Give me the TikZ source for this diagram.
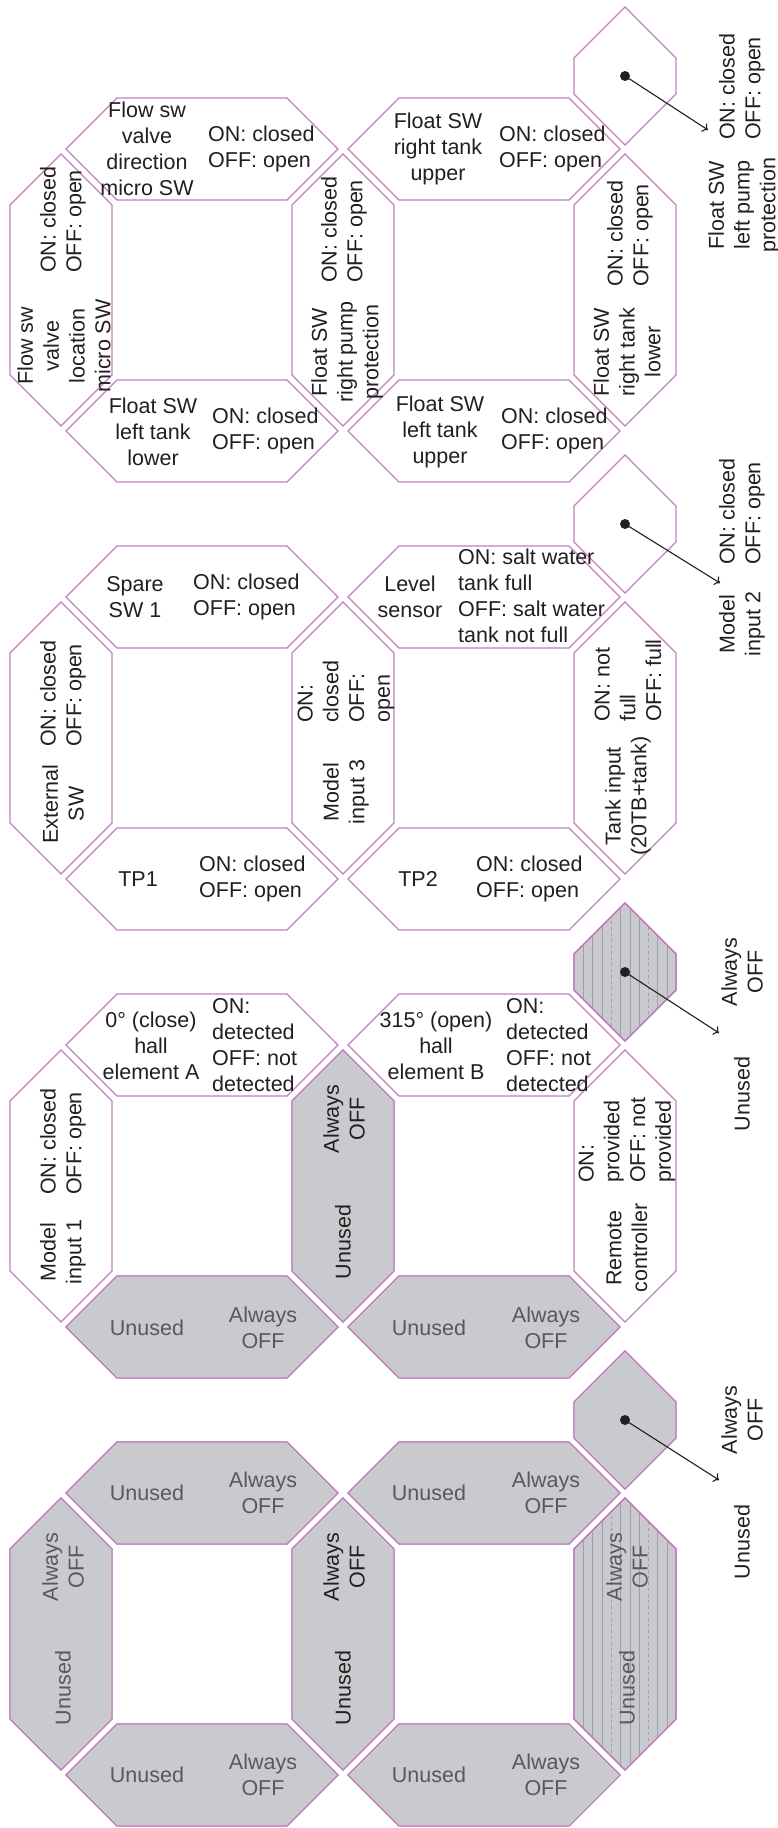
\documentclass[tikz,border=0pt]{standalone}
\usepackage{fontspec}
\setmainfont{Liberation Sans}
\usetikzlibrary{arrows.meta}
\definecolor{segline}{RGB}{192,128,192}
\definecolor{offfill}{RGB}{201,202,205}
\definecolor{offtext}{RGB}{88,89,91}
\definecolor{hatchline}{RGB}{158,158,163}
\definecolor{ink}{RGB}{35,31,32}

\begin{document}
\begin{tikzpicture}[x=1pt,y=-1pt,font=\fontsize{21.5}{25.8}\selectfont,text=ink,
  seg/.style={draw=segline,line width=1.1pt},
  hatch/.style={draw=hatchline,line width=0.6pt},
  lbl/.style={inner sep=0pt,align=center},
  onoff/.style={lbl,anchor=west,align=left},
  up/.style={rotate=90},
  dim/.style={text=offtext},
  dot/.style={circle,fill=ink,inner sep=0pt,minimum size=10pt},
  ptr/.style={draw=ink,line width=1.1pt,-{To[length=5pt,width=10pt]}},
  hseg/.pic={\path[seg,fill=#1] (-136,0)--(-85,-51)--(85,-51)--(136,0)--(85,51)--(-85,51)--cycle;},
  vseg/.pic={\path[seg,fill=#1] (0,-136)--(51,-85)--(51,85)--(0,136)--(-51,85)--(-51,-85)--cycle;},
  dpseg/.pic={\path[seg,fill=#1] (0,-69)--(51,-18)--(51,18)--(0,69)--(-51,18)--(-51,-18)--cycle;},
  lines/.pic={
    \begin{scope}
      \clip (0,-#1-51)--(51,-#1)--(51,#1)--(0,#1+51)--(-51,#1)--(-51,-#1)--cycle;
      \foreach \i in {1,2,3,5,6,7,9,10} \draw[hatch] (-51+9.3*\i,-#1-51)--++(0,2*#1+102);
      \foreach \i in {4,8} \draw[hatch,dashed] (-51+9.3*\i,-#1-51)--++(0,2*#1+102);
    \end{scope}
    \path[seg] (0,-#1-51)--(51,-#1)--(51,#1)--(0,#1+51)--(-51,#1)--(-51,-#1)--cycle;}]
  \useasboundingbox (0,0) rectangle (777,1828);

  % segment outlines, one digit every 448
  \foreach \dy in {0,448,896,1344}{
    \pic at (202,149+\dy) {hseg=white};
    \pic at (484,149+\dy) {hseg=white};
    \pic at (202,431+\dy) {hseg=white};
    \pic at (484,431+\dy) {hseg=white};
    \pic at (61,290+\dy) {vseg=white};
    \pic at (343,290+\dy) {vseg=white};
    \pic at (625,290+\dy) {vseg=white};
    \pic at (625,76+\dy) {dpseg=white};
  }
  % unused segments
  \pic at (202,1327) {hseg=offfill};
  \pic at (484,1327) {hseg=offfill};
  \pic at (343,1186) {vseg=offfill};
  \pic at (625,972) {dpseg=offfill};
  \pic at (625,972) {lines=18};
  \foreach \x/\y in {202/1493,484/1493,202/1775,484/1775} \pic at (\x,\y) {hseg=offfill};
  \foreach \x in {61,343,625} \pic at (\x,1634) {vseg=offfill};
  \pic at (625,1634) {lines=85};
  \pic at (625,1420) {dpseg=offfill};

  % digit 1
  \node[lbl] (flowdir) at (147,149) {Flow sw\\valve\\direction\\micro SW};
  \node[onoff] (flowdirst) at (208,149) {ON: closed\\OFF: open};
  \node[lbl] (rtupper) at (438,149) {Float SW\\right tank\\upper};
  \node[onoff] (rtupperst) at (499,149) {ON: closed\\OFF: open};
  \node[lbl] (ltlower) at (153,432) {Float SW\\left tank\\lower};
  \node[onoff] (ltlowerst) at (212,431) {ON: closed\\OFF: open};
  \node[lbl] (ltupper) at (440,432) {Float SW\\left tank\\upper};
  \node[onoff] (ltupperst) at (501,431) {ON: closed\\OFF: open};
  \node[onoff,up] (flowlocst) at (63,273) {ON: closed\\OFF: open};
  \node[lbl,up] (flowloc) at (64,346) {Flow sw\\valve\\location\\micro SW};
  \node[onoff,up] (rpumpst) at (344,283) {ON: closed\\OFF: open};
  \node[lbl,up] (rpump) at (347,352) {Float SW\\right pump\\protection};
  \node[onoff,up] (rtlowerst) at (630,287) {ON: closed\\OFF: open};
  \node[lbl,up] (rtlower) at (627,352) {Float SW\\right tank\\lower};
  \node[onoff,up] (lpumpst) at (742,140) {ON: closed\\OFF: open};
  \node[lbl,up] (lpump) at (744,205) {Float SW\\left pump\\protection};
  \node[dot] (dotA) at (625,76) {};
  \coordinate (endA) at (708,130);
  \draw[ptr] (dotA.center) -- (endA);

  % digit 2
  \node[lbl] (spare) at (135,597) {Spare\\SW 1};
  \node[onoff] (sparest) at (193,597) {ON: closed\\OFF: open};
  \node[lbl] (level) at (410,597) {Level\\sensor};
  \node[onoff] (levelst) at (458,596) {ON: salt water\\tank full\\OFF: salt water\\tank not full};
  \node[lbl] (tpone) at (138,879) {TP1};
  \node[onoff] (tponest) at (199,879) {ON: closed\\OFF: open};
  \node[lbl] (tptwo) at (418,879) {TP2};
  \node[onoff] (tptwost) at (476,879) {ON: closed\\OFF: open};
  \node[onoff,up] (extst) at (63,747) {ON: closed\\OFF: open};
  \node[lbl,up] (ext) at (63,804) {External\\SW};
  \node[onoff,up] (modelthreest) at (346,723) {ON:\\closed\\OFF:\\open};
  \node[lbl,up] (modelthree) at (346,792) {Model\\input 3};
  \node[onoff,up] (tankst) at (628,722) {ON: not\\full\\OFF: full};
  \node[lbl,up] (tank) at (628,796) {Tank input\\(20TB+tank)};
  \node[onoff,up] (modeltwost) at (742,565) {ON: closed\\OFF: open};
  \node[lbl,up] (modeltwo) at (742,624) {Model\\input 2};
  \node[dot] (dotB) at (625,524) {};
  \coordinate (endB) at (720,583);
  \draw[ptr] (dotB.center) -- (endB);

  % digit 3
  \node[lbl] (hallA) at (151,1046) {0° (close)\\hall\\element A};
  \node[onoff] (hallAst) at (212,1045) {ON:\\detected\\OFF: not\\detected};
  \node[lbl] (hallB) at (436,1046) {315° (open)\\hall\\element B};
  \node[onoff] (hallBst) at (506,1045) {ON:\\detected\\OFF: not\\detected};
  \node[lbl,dim] (unusedC1) at (147,1328) {Unused};
  \node[lbl,dim] (offC1) at (263,1328) {Always\\OFF};
  \node[lbl,dim] (unusedC2) at (429,1328) {Unused};
  \node[lbl,dim] (offC2) at (546,1328) {Always\\OFF};
  \node[onoff,up] (modelonest) at (63,1195) {ON: closed\\OFF: open};
  \node[lbl,up] (modelone) at (63,1252) {Model\\input 1};
  \node[lbl,up] (offC3) at (344,1119) {Always\\OFF};
  \node[lbl,up] (unusedC3) at (343,1242) {Unused};
  \node[onoff,up] (remotest) at (627,1183) {ON:\\provided\\OFF: not\\provided};
  \node[lbl,up] (remote) at (627,1248) {Remote\\controller};
  \node[lbl,up] (offC4) at (742,972) {Always\\OFF};
  \node[lbl,up] (unusedC4) at (742,1094) {Unused};
  \node[dot] (dotC) at (625,972) {};
  \coordinate (endC) at (719,1033);
  \draw[ptr] (dotC.center) -- (endC);

  % digit 4
  \foreach \x/\y [count=\n] in {147/1493,429/1493,147/1775,429/1775}
    \node[lbl,dim] (unusedD\n) at (\x,\y) {Unused};
  \foreach \x/\y [count=\n] in {263/1493,546/1493,263/1775,546/1775}
    \node[lbl,dim] (offD\n) at (\x,\y) {Always\\OFF};
  \node[lbl,up,dim] (offD5) at (63,1567) {Always\\OFF};
  \node[lbl,up,dim] (unusedD5) at (63,1688) {Unused};
  \node[lbl,up] (offD6) at (344,1567) {Always\\OFF};
  \node[lbl,up] (unusedD6) at (343,1688) {Unused};
  \node[lbl,up,dim] (offD7) at (627,1567) {Always\\OFF};
  \node[lbl,up,dim] (unusedD7) at (627,1688) {Unused};
  \node[lbl,up] (offD8) at (742,1420) {Always\\OFF};
  \node[lbl,up] (unusedD8) at (742,1542) {Unused};
  \node[dot] (dotD) at (625,1420) {};
  \coordinate (endD) at (719,1480);
  \draw[ptr] (dotD.center) -- (endD);
\end{tikzpicture}
\end{document}
